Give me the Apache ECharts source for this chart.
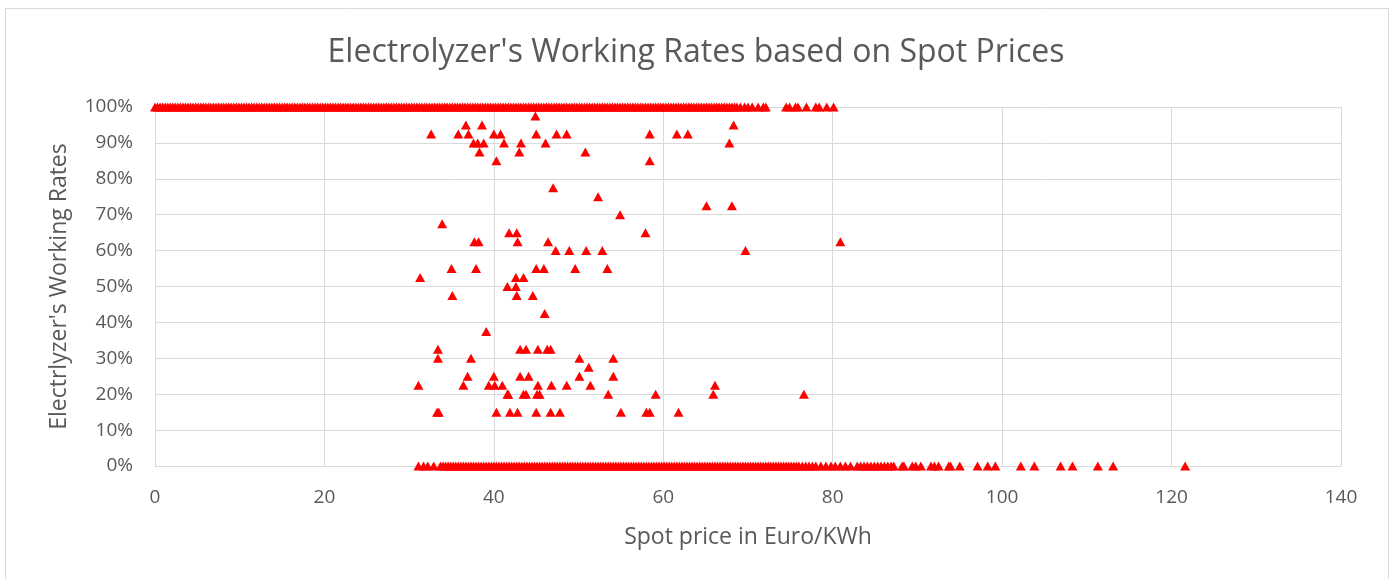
<!DOCTYPE html>
<html>
<head>
<meta charset="utf-8">
<title>Electrolyzer working rates</title>
<script src="https://cdn.jsdelivr.net/npm/echarts@6/dist/echarts.min.js"></script>
<style>
  html, body { margin: 0; padding: 0; background: #fff; }
  #chart { width: 1392px; height: 579px; }
</style>
</head>
<body>
<div id="chart"></div>
<script>
// spot prices (Euro/KWh) where the electrolyzer ran at 100%
const fullPrice = [
  0.0, 0.3, 0.6, 0.9, 1.2, 1.5, 1.8, 2.1, 2.4, 2.7, 3.0, 3.3, 3.6, 3.9, 4.2, 4.5, 4.8, 5.1, 5.4, 5.7,
  6.0, 6.3, 6.6, 6.9, 7.2, 7.5, 7.8, 8.1, 8.4, 8.7, 9.0, 9.3, 9.6, 9.9, 10.2, 10.5, 10.8, 11.1, 11.4, 11.7,
  12.0, 12.3, 12.6, 12.9, 13.2, 13.5, 13.8, 14.1, 14.4, 14.7, 15.0, 15.3, 15.6, 15.9, 16.2, 16.5, 16.8, 17.1, 17.4, 17.7,
  18.0, 18.3, 18.6, 18.9, 19.2, 19.5, 19.8, 20.1, 20.4, 20.7, 21.0, 21.3, 21.6, 21.9, 22.2, 22.5, 22.8, 23.1, 23.4, 23.7,
  24.0, 24.3, 24.6, 24.9, 25.2, 25.5, 25.8, 26.1, 26.4, 26.7, 27.0, 27.3, 27.6, 27.9, 28.2, 28.5, 28.8, 29.1, 29.4, 29.7,
  30.0, 30.3, 30.6, 30.9, 31.2, 31.5, 31.8, 32.1, 32.4, 32.7, 33.0, 33.3, 33.6, 33.9, 34.2, 34.5, 34.8, 35.1, 35.4, 35.7,
  36.0, 36.3, 36.6, 36.9, 37.2, 37.5, 37.8, 38.1, 38.4, 38.7, 39.0, 39.3, 39.6, 39.9, 40.2, 40.5, 40.8, 41.1, 41.4, 41.7,
  42.0, 42.3, 42.6, 42.9, 43.2, 43.5, 43.8, 44.1, 44.4, 44.7, 45.0, 45.3, 45.6, 45.9, 46.2, 46.5, 46.8, 47.1, 47.4, 47.7,
  48.0, 48.3, 48.6, 48.9, 49.2, 49.5, 49.8, 50.1, 50.4, 50.7, 51.0, 51.3, 51.6, 51.9, 52.2, 52.5, 52.8, 53.1, 53.4, 53.7,
  54.0, 54.3, 54.6, 54.9, 55.2, 55.5, 55.8, 56.1, 56.4, 56.7, 57.0, 57.3, 57.6, 57.9, 58.2, 58.5, 58.8, 59.1, 59.4, 59.7,
  60.0, 60.3, 60.6, 60.9, 61.2, 61.5, 61.8, 62.1, 62.4, 62.7, 63.0, 63.3, 63.6, 63.9, 64.2, 64.5, 64.8, 65.1, 65.4, 65.7,
  66.0, 66.3, 66.6, 66.9, 67.2, 67.5, 67.8, 68.1, 68.4, 68.7, 69.1, 69.6, 70.0, 70.5, 71.2, 71.8, 72.1,
  74.5, 74.9, 75.6, 75.9, 76.9, 78.0, 78.4, 79.3, 80.1];

// spot prices where the electrolyzer was off (0%)
const idlePrice = [31.1, 31.7, 32.2, 32.9,
  33.7, 34.0, 34.3, 34.6, 34.9, 35.2, 35.5, 35.8, 36.1, 36.4, 36.7, 37.0, 37.3, 37.6, 37.9, 38.2,
  38.5, 38.8, 39.1, 39.4, 39.7, 40.0, 40.3, 40.6, 40.9, 41.2, 41.5, 41.8, 42.1, 42.4, 42.7, 43.0,
  43.3, 43.6, 43.9, 44.2, 44.5, 44.8, 45.1, 45.4, 45.7, 46.0, 46.3, 46.6, 46.9, 47.2, 47.5, 47.8,
  48.1, 48.4, 48.7, 49.0, 49.3, 49.6, 49.9, 50.2, 50.5, 50.8, 51.1, 51.4, 51.7, 52.0, 52.3, 52.6,
  52.9, 53.2, 53.5, 53.8, 54.1, 54.4, 54.7, 55.0, 55.3, 55.6, 55.9, 56.2, 56.5, 56.8, 57.1, 57.4,
  57.7, 58.0, 58.3, 58.6, 58.9, 59.2, 59.5, 59.8, 60.1, 60.4, 60.7, 61.0, 61.3, 61.6, 61.9, 62.2,
  62.5, 62.8, 63.1, 63.4, 63.7, 64.0, 64.3, 64.6, 64.9, 65.2, 65.5, 65.8, 66.1, 66.4, 66.7, 67.0,
  67.3, 67.6, 67.9, 68.2, 68.5, 68.8, 69.1, 69.4, 69.7, 70.0, 70.3, 70.6, 70.9, 71.2, 71.5, 71.8,
  72.1, 72.4, 72.7, 73.0, 73.3, 73.6, 73.9, 74.2, 74.5, 74.8, 75.1, 75.4, 75.7, 76.0, 76.4, 76.8,
  77.2, 77.6, 78.0, 78.6, 79.2, 79.8, 80.3, 80.9, 81.5, 82.1,
  82.9, 83.3, 83.7, 84.1, 84.5, 84.9, 85.3, 85.7, 86.1, 86.5, 86.9, 87.2,
  88.2, 88.4, 89.4, 89.8, 90.4, 91.6, 92.0, 92.5, 93.7, 93.9, 95.0, 97.1, 98.3,
  99.2, 102.2, 103.8, 106.9, 108.3, 111.3, 113.1, 121.6];

// partial-load hours: price and working rate (%)
const partialPrice = [44.9, 36.7, 38.6, 68.3,
  32.6, 35.8, 37.0, 40.0, 40.8, 45.0, 47.4, 48.6, 58.4, 61.6, 62.9,
  37.6, 38.1, 38.8, 41.2, 43.2, 46.1, 67.8,
  38.3, 43.0, 50.8,
  40.3, 58.4,
  47.0, 52.3, 65.1, 68.1, 54.9, 33.9,
  41.8, 42.7, 57.9,
  37.7, 38.2, 42.8, 46.4, 80.9,
  47.3, 48.9, 50.9, 52.8, 69.7,
  35.0, 37.9, 45.0, 45.9, 49.6, 53.4,
  31.3, 42.6, 43.5,
  41.6, 42.6,
  35.1, 42.7, 44.6,
  46.0, 39.1,
  33.4, 43.1, 43.8, 45.2, 46.3, 46.7,
  33.4, 37.3, 50.1, 54.1,
  51.2,
  36.9, 40.0, 43.1, 44.1, 50.1, 54.1,
  31.1, 36.4, 39.4, 40.1, 41.0, 45.2, 46.8, 48.6, 51.4, 66.1,
  41.6, 41.7, 43.5, 43.8, 45.1, 45.4, 53.5, 59.1, 65.9, 76.6,
  33.3, 33.5, 40.3, 41.9, 42.8, 45.0, 46.7, 47.8, 55.0, 58.0, 58.4, 61.8];
const partialRate = [97.5, 95, 95, 95,
  92.5, 92.5, 92.5, 92.5, 92.5, 92.5, 92.5, 92.5, 92.5, 92.5, 92.5,
  90, 90, 90, 90, 90, 90, 90,
  87.5, 87.5, 87.5,
  85, 85,
  77.5, 75, 72.5, 72.5, 70, 67.5,
  65, 65, 65,
  62.5, 62.5, 62.5, 62.5, 62.5,
  60, 60, 60, 60, 60,
  55, 55, 55, 55, 55, 55,
  52.5, 52.5, 52.5,
  50, 50,
  47.5, 47.5, 47.5,
  42.5, 37.5,
  32.5, 32.5, 32.5, 32.5, 32.5, 32.5,
  30, 30, 30, 30,
  27.5,
  25, 25, 25, 25, 25, 25,
  22.5, 22.5, 22.5, 22.5, 22.5, 22.5, 22.5, 22.5, 22.5, 22.5,
  20, 20, 20, 20, 20, 20, 20, 20, 20, 20,
  15, 15, 15, 15, 15, 15, 15, 15, 15, 15, 15, 15];

const points = [];
fullPrice.forEach(p => points.push([p, 100]));
idlePrice.forEach(p => points.push([p, 0]));
partialPrice.forEach((p, i) => points.push([p, partialRate[i]]));

const chart = echarts.init(document.getElementById('chart'));
const txt = '#595959';
const font = '"Open Sans", sans-serif';

chart.setOption({
  animation: false,
  backgroundColor: '#fff',
  graphic: [{
    type: 'rect',
    shape: { x: 5.5, y: 8.5, width: 1383, height: 580 },
    style: { fill: 'none', stroke: '#d9d9d9', lineWidth: 1 },
    silent: true
  }],
  title: {
    text: "Electrolyzer's Working Rates based on Spot Prices",
    left: 'center',
    top: 32,
    textStyle: { color: txt, fontFamily: font, fontSize: 32, fontWeight: 'normal' }
  },
  grid: { left: 155, right: 51, top: 107, bottom: 113 },
  xAxis: {
    type: 'value',
    min: 0, max: 140, interval: 20,
    name: 'Spot price in Euro/KWh',
    nameLocation: 'middle',
    nameGap: 60,
    nameTextStyle: { color: txt, fontFamily: font, fontSize: 23 },
    axisLine: { show: true, lineStyle: { color: '#d9d9d9' } },
    axisTick: { show: false },
    axisLabel: { color: txt, fontFamily: font, fontSize: 19, margin: 22 },
    splitLine: { show: true, lineStyle: { color: '#d9d9d9', width: 1 } }
  },
  yAxis: {
    type: 'value',
    min: 0, max: 100, interval: 10,
    name: "Electrlyzer's Working Rates",
    nameLocation: 'middle',
    nameGap: 84,
    nameTextStyle: { color: txt, fontFamily: font, fontSize: 23 },
    axisLine: { show: true, lineStyle: { color: '#d9d9d9' } },
    axisTick: { show: false },
    axisLabel: { color: txt, fontFamily: font, fontSize: 19, margin: 22, formatter: '{value}%' },
    splitLine: { show: true, lineStyle: { color: '#d9d9d9', width: 1 } }
  },
  series: [{
    type: 'scatter',
    data: points,
    symbol: 'triangle',
    symbolSize: [10, 9],
    itemStyle: { color: '#ff0000', opacity: 1 }
  }]
});
</script>
</body>
</html>
